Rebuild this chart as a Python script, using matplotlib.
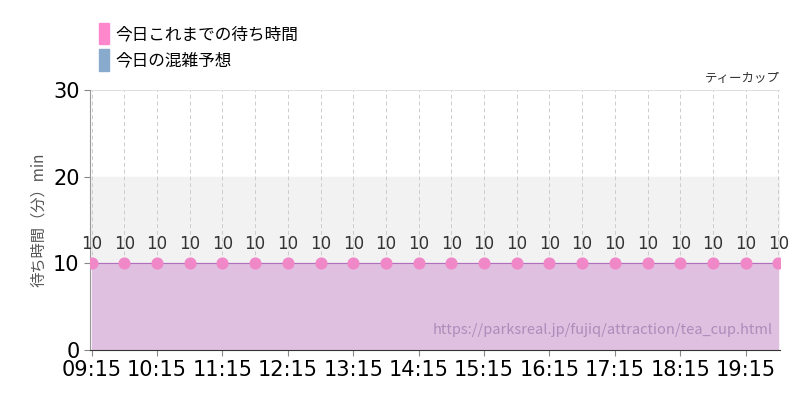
import matplotlib
matplotlib.use("Agg")
import matplotlib.pyplot as plt
from matplotlib.patches import Patch

plt.rcParams['font.family'] = ['Noto Sans CJK JP', 'DejaVu Sans']

times = ["09:15", "09:45", "10:15", "10:45", "11:15", "11:45", "12:15", "12:45",
         "13:15", "13:45", "14:15", "14:45", "15:15", "15:45", "16:15", "16:45",
         "17:15", "17:45", "18:15", "18:45", "19:15", "19:45"]
waits = [10] * 22
tick_labels = ["09:15", "10:15", "11:15", "12:15", "13:15", "14:15", "15:15",
               "16:15", "17:15", "18:15", "19:15"]

x = list(range(len(times)))
fig = plt.figure(figsize=(8, 4), dpi=100)
ax = fig.add_axes([0.1125, 0.125, 0.8625, 0.65])

ax.axhspan(10, 20, color="#f2f2f2", zorder=0)
ax.fill_between(x, 0, waits, color="#e0c0e0", zorder=1)
ax.plot(x, waits, color="#b070c0", lw=0.8, zorder=2)
ax.scatter(x, waits, s=60, color="#f088c8", zorder=3)
for xi, w in zip(x, waits):
    ax.text(xi, w + 1.2, str(w), ha="center", va="bottom", fontsize=12,
            family=["Liberation Sans Narrow", "DejaVu Sans"], color="#333333")

for xi in x:
    ax.axvline(xi, color="#cccccc", ls=(0, (4, 3)), lw=0.7, zorder=0.5)
ax.axhline(30, color="#dddddd", lw=0.7)

ax.set_xlim(-0.05, len(times) - 1 + 0.05)
ax.set_ylim(0, 30)
ax.set_yticks([0, 10, 20, 30])
ax.set_xticks(range(0, len(times), 2))
ax.set_xticklabels(tick_labels)
for lab in ax.get_xticklabels() + ax.get_yticklabels():
    lab.set_family(["Liberation Sans Narrow", "DejaVu Sans"])
    lab.set_fontsize(15)
ax.tick_params(length=4, color="#888888")
for s in ["top", "right"]:
    ax.spines[s].set_visible(False)
ax.spines["left"].set_color("#999999")
ax.spines["bottom"].set_color("#333333")
ax.set_ylabel("待ち時間（分）min", fontsize=11, color="#555555")

ax.text(1.0, 1.02, "ティーカップ", transform=ax.transAxes, ha="right", va="bottom",
        fontsize=9, color="#333333")
ax.text(0.99, 0.05, "https://parksreal.jp/fujiq/attraction/tea_cup.html",
        transform=ax.transAxes, ha="right", va="bottom", fontsize=10.5,
        color="#a080b0", alpha=0.8)

handles = [Patch(color="#ff88cc"), Patch(color="#88aacc")]
fig.legend(handles, ["今日これまでの待ち時間", "今日の混雑予想"], loc="upper left",
           bbox_to_anchor=(0.105, 0.98), frameon=False, fontsize=12,
           handlelength=0.6, handleheight=1.6, handletextpad=0.4, labelspacing=0.3)

fig.savefig("out.png")
